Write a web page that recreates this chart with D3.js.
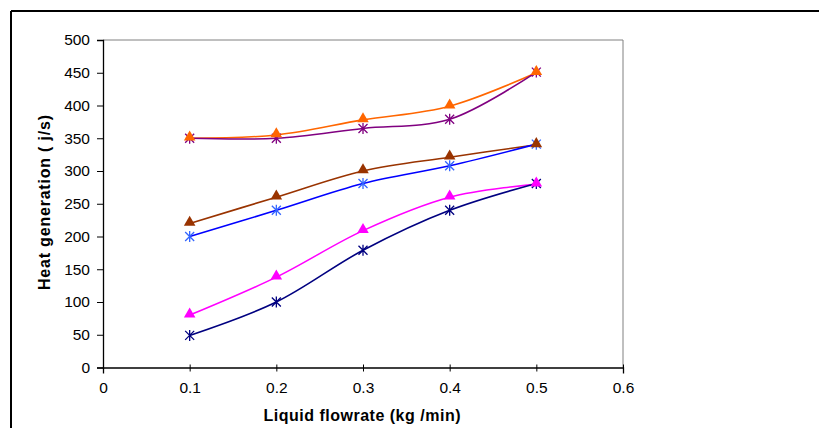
<!DOCTYPE html>
<html><head><meta charset="utf-8">
<script src="https://cdn.jsdelivr.net/npm/d3@7"></script>
<style>body{margin:0;background:#fff}svg{display:block}text{font-family:"Liberation Sans",Arial,sans-serif}</style>
</head><body><svg id="c" width="819" height="428"></svg>
<script>
const flowrates = [0.1, 0.2, 0.3, 0.4, 0.5];
const xTicks = [0, 0.1, 0.2, 0.3, 0.4, 0.5, 0.6];
const yTicks = [0, 50, 100, 150, 200, 250, 300, 350, 400, 450, 500];
const orangeTri = [350, 355, 378, 399, 450];
const purpleStar = [350, 350, 365, 379, 451];
const brownTri = [220, 260, 300, 321, 340];
const blueStar = [200, 240, 281, 308, 341];
const magentaTri = [80, 138, 209, 260, 280];
const navyStar = [49, 100, 179, 240, 281];

const series = [
  {v: orangeTri, line: "#FF6600", mark: "#FF6600", shape: "tri"},
  {v: purpleStar, line: "#800080", mark: "#800080", shape: "star"},
  {v: brownTri, line: "#993300", mark: "#993300", shape: "tri"},
  {v: blueStar, line: "#0000FF", mark: "#3366FF", shape: "star"},
  {v: magentaTri, line: "#FF00FF", mark: "#FF00FF", shape: "tri"},
  {v: navyStar, line: "#000080", mark: "#000080", shape: "star"}
];

const svg = d3.select("#c");
const L = 103, R = 623, T = 40, B = 367.5;
const x = d3.scaleLinear().domain([0, 0.6]).range([L, R]);
const y = d3.scaleLinear().domain([0, 500]).range([B, T]);

// outer frame
svg.append("line").attr("x1", 11).attr("x2", 819).attr("y1", 11).attr("y2", 11).attr("stroke", "#000").attr("stroke-width", 2);
svg.append("line").attr("x1", 11).attr("x2", 11).attr("y1", 11).attr("y2", 428).attr("stroke", "#000").attr("stroke-width", 2);

// plot area border (top/right grey)
svg.append("path").attr("d", `M${L},${T}H${R}V${B}`).attr("fill", "none").attr("stroke", "#808080").attr("stroke-width", 1);

const xAxis = svg.append("g").attr("transform", `translate(0,${B})`)
  .call(d3.axisBottom(x).tickValues(xTicks).tickSize(6).tickFormat(d => d === 0 ? "0" : d3.format(".1f")(d)));
const yAxis = svg.append("g").attr("transform", `translate(${L},0)`)
  .call(d3.axisLeft(y).tickValues(yTicks).tickSize(6).tickFormat(d3.format("d")));
[xAxis, yAxis].forEach(g => {
  g.select(".domain").attr("stroke", "#000").attr("stroke-width", 1.3);
  g.selectAll(".tick line").attr("stroke", "#000");
  g.selectAll(".tick text").attr("font-size", 15.5).attr("fill", "#000")
    .attr("font-family", "'Liberation Sans', Arial, sans-serif");
});
xAxis.selectAll(".tick line").attr("y1", -3).attr("y2", 4);
xAxis.selectAll(".tick text").attr("y", 14);
yAxis.selectAll(".tick line").attr("x1", 0).attr("x2", -6);
yAxis.selectAll(".tick text").attr("x", -13);

// titles
svg.append("text").attr("x", 362).attr("y", 421).attr("text-anchor", "middle")
  .attr("font-weight", "bold").attr("font-size", 16)
  .attr("textLength", 197).attr("lengthAdjust", "spacing").text("Liquid flowrate (kg /min)");
svg.append("text").attr("transform", "translate(50,202.5) rotate(-90)").attr("text-anchor", "middle")
  .attr("font-weight", "bold").attr("font-size", 16)
  .attr("textLength", 175).attr("lengthAdjust", "spacing").text("Heat generation ( j/s)");

const line = d3.line().x((d, i) => x(flowrates[i])).y(d => y(d)).curve(d3.curveCatmullRom.alpha(0.5));
const tri = d3.symbol().type(d3.symbolTriangle).size(58);
series.forEach(s => {
  svg.append("path").attr("d", line(s.v)).attr("fill", "none").attr("stroke", s.line).attr("stroke-width", 1.6);
});
// stars first, triangles on top
["star", "tri"].forEach(shape => {
  series.filter(s => s.shape === shape).forEach(s => {
    const g = svg.append("g");
    s.v.forEach((d, i) => {
      const cx = x(flowrates[i]), cy = y(d);
      if (shape === "tri") {
        g.append("path").attr("d", tri()).attr("transform", `translate(${cx},${cy - 1})`).attr("fill", s.mark);
      } else {
        const r = 4.5;
        g.append("path").attr("d", `M${cx - r},${cy - r}L${cx + r},${cy + r}M${cx - r},${cy + r}L${cx + r},${cy - r}M${cx},${cy - r - 1}L${cx},${cy + r + 1}`)
          .attr("stroke", s.mark).attr("stroke-width", 1.3).attr("fill", "none");
      }
    });
  });
});
</script></body></html>
